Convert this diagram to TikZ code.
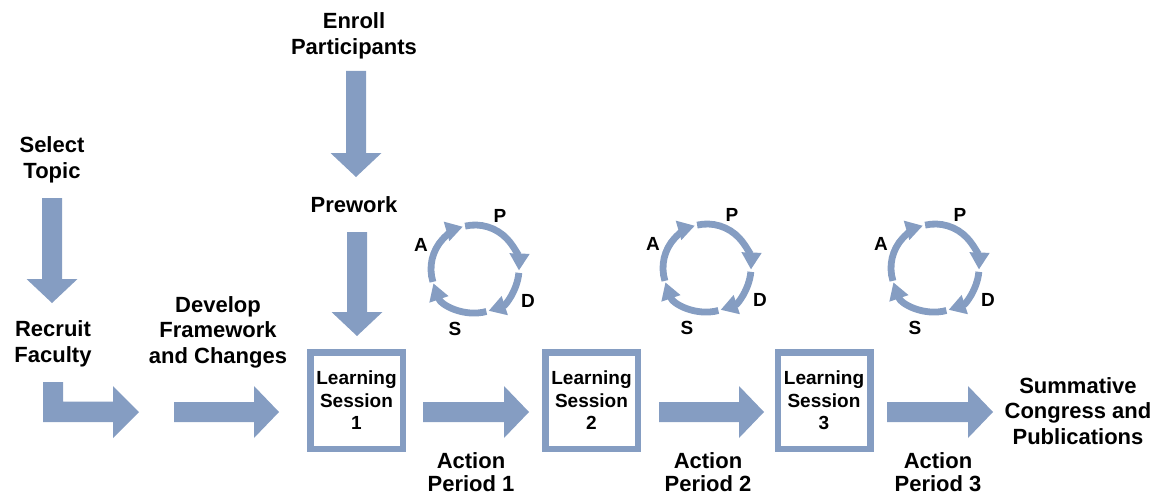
\documentclass[tikz,border=0pt]{standalone}
\usepackage{fontspec}
\setmainfont{Liberation Sans}
\usetikzlibrary{arrows.meta,calc}
\definecolor{arrowblue}{RGB}{133,157,194}
\tikzset{
  lbl/.style={align=center,inner sep=0pt,font=\bfseries\fontsize{22}{25.5}\selectfont},
  actlbl/.style={align=center,inner sep=0pt,font=\bfseries\fontsize{22}{23.5}\selectfont},
  lslbl/.style={align=center,inner sep=0pt,font=\bfseries\fontsize{19}{22.5}\selectfont},
  pdsalbl/.style={inner sep=0pt,font=\bfseries\fontsize{19}{22}\selectfont},
  lsbox/.style={draw=arrowblue,line width=6.5pt,fill=white,minimum width=92.5pt,minimum height=96.5pt,inner sep=0pt},
  blockarrow/.style={fill=arrowblue},
  ring/.style={draw=arrowblue,line width=6.8pt,-{Triangle[length=17pt,width=19pt]}},
}
% horizontal block arrow: x start, x tip, y centre
\newcommand\harrowshape[3]{%
  \fill[blockarrow] (#1,#3-10) -- (#2-25,#3-10) -- (#2-25,#3-26) -- (#2,#3)
    -- (#2-25,#3+26) -- (#2-25,#3+10) -- (#1,#3+10) -- cycle;}
% vertical block arrow: x centre, y start, y tip
\newcommand\varrowshape[3]{%
  \fill[blockarrow] (#1-10,#2) -- (#1-10,#3-24) -- (#1-25.5,#3-24) -- (#1,#3)
    -- (#1+25.5,#3-24) -- (#1+10,#3-24) -- (#1+10,#2) -- cycle;}
% PDSA cycle: name, x, y
\newcommand\pdsacycle[3]{%
  \coordinate (#1) at (#2,#3);
  \draw[ring] ($(#1)+(197:44pt)$) arc[start angle=197,end angle=106,radius=44pt];
  \draw[ring] ($(#1)+(103:44pt)$) arc[start angle=103,end angle=-2,radius=44pt];
  \draw[ring] ($(#1)+(-5:44pt)$) arc[start angle=-5,end angle=-72,radius=44pt];
  \draw[ring] ($(#1)+(-75:44pt)$) arc[start angle=-75,end angle=-161,radius=44pt];
  \node[pdsalbl] (#1P) at ($(#1)+(25,-53)$) {P};
  \node[pdsalbl] (#1A) at ($(#1)+(-54,-24)$) {A};
  \node[pdsalbl] (#1D) at ($(#1)+(53,32)$) {D};
  \node[pdsalbl] (#1S) at ($(#1)+(-20,60)$) {S};}
\begin{document}
\begin{tikzpicture}[x=1pt,y=-1pt]
\useasboundingbox (0,0) rectangle (1168,495);
% text labels
\node[lbl] (select) at (52,160) {Select\\Topic};
\node[lbl] (enroll) at (354,36) {Enroll\\Participants};
\node[lbl] (prework) at (354,205) {Prework};
\node[lbl] (recruit) at (53,344) {Recruit\\Faculty};
\node[lbl] (develop) at (218,332) {Develop\\Framework\\and Changes};
\node[lbl] (summ) at (1078,411) {Summative\\Congress and\\Publications};
\node[actlbl] (ap1) at (471,472) {Action\\Period 1};
\node[actlbl] (ap2) at (708,472) {Action\\Period 2};
\node[actlbl] (ap3) at (938,472) {Action\\Period 3};
% learning session boxes
\node[lsbox] (ls1) at (356.5,400.5) {};
\node[lsbox] (ls2) at (591.5,400.5) {};
\node[lsbox] (ls3) at (824,400.5) {};
\node[lslbl] at (ls1) {Learning\\Session\\1};
\node[lslbl] at (ls2) {Learning\\Session\\2};
\node[lslbl] at (ls3) {Learning\\Session\\3};
% vertical arrows
\varrowshape{52}{198}{303}
\varrowshape{356}{71}{177}
\varrowshape{357}{232}{336}
% bent arrow
\fill[blockarrow] (43,382) -- (63,382) -- (63,401.5) -- (113,401.5) -- (113,386)
  -- (139,412) -- (113,438) -- (113,422) -- (43,422) -- cycle;
% horizontal arrows
\harrowshape{174}{279}{412}
\harrowshape{423}{529}{412}
\harrowshape{659}{764}{412}
\harrowshape{887}{993}{412}
% PDSA cycles
\pdsacycle{c1}{475}{269}
\pdsacycle{c2}{707}{268}
\pdsacycle{c3}{935}{268}
\end{tikzpicture}
\end{document}
